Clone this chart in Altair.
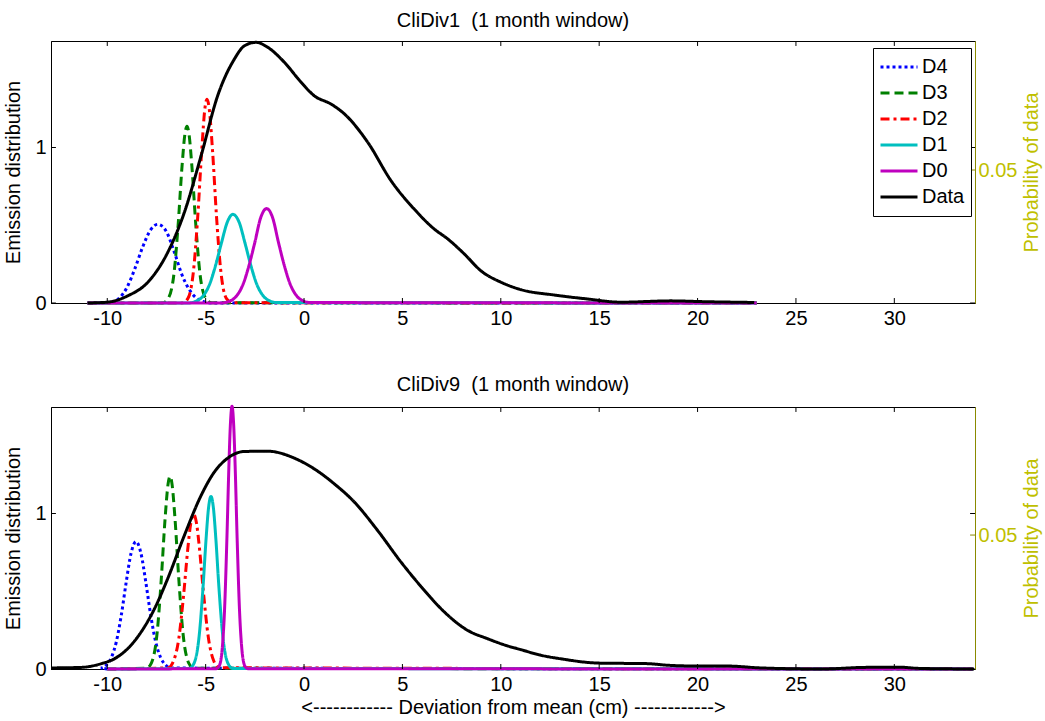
import altair as alt
import pandas as pd

SERIES = ["D4", "D3", "D2", "D1", "D0", "Data"]
COLORS = ["#0000FF", "#008000", "#FF0000", "#00BFBF", "#BF00BF", "#000000"]
DASHES = [[3, 3], [9, 5], [9, 4, 3, 4], [1, 0], [1, 0], [1, 0]]
X_TICKS = [-10, -5, 0, 5, 10, 15, 20, 25, 30]
Y_TICKS = [0, 1]
P_TICKS = [0.05]
X_DOMAIN = [-12.86, 34.1]
LEFT_MAX = 1.685
TITLE1 = "CliDiv1\u00a0 (1 month window)"
TITLE2 = "CliDiv9\u00a0 (1 month window)"
X_TITLE = "<------------ Deviation from mean (cm) ------------>"
LEFT_TITLE = "Emission distribution"
RIGHT_TITLE = "Probability of data"

# ---------------- Panel 1 (CliDiv1) ----------------
P1_D4_X = [-11, -9.8, -9.4, -9.0, -8.6, -8.2, -7.8, -7.43, -7.0, -6.6, -6.2, -5.8, -5.4, -5.0, -4.6, 23]
P1_D4_Y = [0, 0.005, 0.03, 0.1, 0.22, 0.36, 0.47, 0.506, 0.46, 0.33, 0.18, 0.08, 0.025, 0.005, 0, 0]
P1_D3_X = [-11, -7.2, -6.9, -6.6, -6.4, -6.2, -6.05, -5.95, -5.85, -5.7, -5.5, -5.3, -5.0, -4.7, 23]
P1_D3_Y = [0, 0, 0.03, 0.2, 0.5, 0.88, 1.09, 1.137, 1.09, 0.88, 0.5, 0.2, 0.03, 0.002, 0]
P1_D2_X = [-11, -6.2, -5.9, -5.6, -5.4, -5.2, -5.03, -4.93, -4.83, -4.65, -4.45, -4.25, -3.95, -3.65, 23]
P1_D2_Y = [0, 0, 0.03, 0.23, 0.56, 0.98, 1.26, 1.31, 1.26, 0.98, 0.56, 0.23, 0.03, 0.002, 0]
P1_D1_X = [-11, -5.9, -5.4, -5.1, -4.8, -4.5, -4.2, -3.9, -3.62, -3.3, -3.0, -2.7, -2.4, -2.1, -1.8, -1.4, 23]
P1_D1_Y = [0, 0, 0.017, 0.05, 0.12, 0.24, 0.385, 0.52, 0.57, 0.52, 0.385, 0.24, 0.12, 0.05, 0.017, 0.003, 0]
P1_D0_X = [-11, -4.2, -3.7, -3.4, -3.1, -2.8, -2.5, -2.2, -1.9, -1.6, -1.3, -1.0, -0.7, -0.4, -0.1, 0.3, 23]
P1_D0_Y = [0, 0, 0.017, 0.05, 0.12, 0.24, 0.39, 0.55, 0.607, 0.55, 0.39, 0.24, 0.12, 0.05, 0.017, 0.003, 0]
P1_DATA_X = [-11.0, -10.0, -8.96, -7.94, -6.93, -6.08, -5.23, -4.39, -3.54, -3.03, -2.44, -1.84,
             -1.0, -0.15, 0.52, 1.37, 2.05, 3.24, 4.42, 5.6, 6.62, 7.3, 8.15, 8.99, 10.01, 11.03,
             12.72, 14.42, 16.1, 18.65, 20.34, 22.88]
P1_DATA_Y = [0.0, 0.0003, 0.0027, 0.0078, 0.019, 0.0341, 0.0554, 0.0779, 0.0917, 0.0967, 0.098, 0.0961,
             0.0905, 0.083, 0.0779, 0.0748, 0.0711, 0.0604, 0.046, 0.0353, 0.0278, 0.0241, 0.0184, 0.0121,
             0.0078, 0.005, 0.003, 0.0015, 0.0003, 0.0008, 0.0005, 0.0002]
P1_RIGHT_MAX = 0.0985

# ---------------- Panel 2 (CliDiv9) ----------------
P2_D4_X = [-10, -10.34, -10.04, -9.79, -9.54, -9.29, -9.04, -8.79, -8.54, -8.29, -8.04, -7.79, -7.54, -7.29, -7.04, -6.74, 34]
P2_D4_Y = [0, 0.006, 0.026, 0.074, 0.175, 0.344, 0.557, 0.745, 0.819, 0.745, 0.557, 0.344, 0.175, 0.074, 0.026, 0.006, 0]
P2_D3_X = [-10, -8.01, -7.76, -7.46, -7.26, -7.06, -6.91, -6.81, -6.71, -6.56, -6.36, -6.16, -5.86, -5.61, 34]
P2_D3_Y = [0, 0.005, 0.038, 0.24, 0.57, 0.97, 1.19, 1.239, 1.19, 0.97, 0.57, 0.24, 0.038, 0.005, 0]
P2_D2_X = [-10, -6.91, -6.61, -6.36, -6.11, -5.91, -5.76, -5.61, -5.46, -5.31, -5.11, -4.86, -4.61, -4.31, 34]
P2_D2_Y = [0, 0.008, 0.059, 0.2, 0.49, 0.77, 0.934, 0.996, 0.934, 0.77, 0.49, 0.2, 0.059, 0.008, 0]
P2_D1_X = [-10, -5.83, -5.58, -5.33, -5.13, -4.98, -4.85, -4.73, -4.61, -4.48, -4.33, -4.13, -3.88, -3.63, 34]
P2_D1_Y = [0, 0.004, 0.04, 0.213, 0.533, 0.834, 1.04, 1.11, 1.04, 0.834, 0.533, 0.213, 0.04, 0.004, 0]
P2_D0_X = [-10, -4.46, -4.31, -4.16, -4.04, -3.92, -3.82, -3.74, -3.66, -3.58, -3.5, -3.4, -3.28, -3.16, -3.01, -2.86, 34]
P2_D0_Y = [0, 0.002, 0.02, 0.128, 0.38, 0.84, 1.3, 1.58, 1.69, 1.58, 1.3, 0.84, 0.38, 0.128, 0.02, 0.002, 0]
P2_DATA_X = [-12.86, -11.33, -10.3, -9.64, -8.96, -8.28, -7.6, -6.93, -6.08, -5.23, -4.56, -3.88, -3.03,
             -1.84, -0.49, 0.52, 1.54, 2.56, 3.74, 4.93, 6.11, 7.13, 8.32, 9.33, 10.35, 11.03, 12.0, 13.06,
             15.0, 17.46, 18.48, 20.0, 21.53, 23.22, 26.27, 28.47, 30.17, 31.35, 34.05]
P2_DATA_Y = [0.0004, 0.0006, 0.002, 0.0038, 0.0076, 0.0138, 0.0225, 0.0337, 0.0499, 0.0648, 0.0735, 0.0787,
             0.0812, 0.0813, 0.0787, 0.0747, 0.0691, 0.0623, 0.0517, 0.0399, 0.0294, 0.0213, 0.0144, 0.0113,
             0.0086, 0.0072, 0.0052, 0.0038, 0.0022, 0.002, 0.0014, 0.0011, 0.0011, 0.0004, 0.0, 0.0006, 0.0007,
             0.0002, 0.0]
P2_RIGHT_MAX = 0.0978

FONT = "Liberation Sans"
FS = 20
OLIVE = "#8A8A00"
YELLOW = "#BFBF00"
HYPHEN = "replace(datum.label, '\u2212', '-')"


def emis_frame(pairs):
    rows = []
    for name, xs, ys in pairs:
        for i, (a, b) in enumerate(zip(xs, ys)):
            rows.append({"x": a, "y": b, "series": name, "i": i})
    return pd.DataFrame(rows)


color_scale = alt.Scale(domain=SERIES, range=COLORS)
dash_scale = alt.Scale(domain=SERIES, range=DASHES)


def panel(title, pairs, data_x, data_y, right_max, show_x_title):
    xscale = alt.Scale(domain=X_DOMAIN, nice=False, zero=False)
    lscale = alt.Scale(domain=[0, LEFT_MAX], nice=False, zero=False)
    rscale = alt.Scale(domain=[0, right_max], nice=False, zero=False)
    xaxis = alt.Axis(values=X_TICKS, format="d", labelExpr=HYPHEN,
                     title=X_TITLE if show_x_title else None, labelPadding=5,
                     titlePadding=3, ticks=False)
    emis = alt.Chart(emis_frame(pairs)).mark_line(strokeWidth=3, interpolate="monotone", strokeCap="butt").encode(
        x=alt.X("x:Q", scale=xscale, axis=xaxis),
        y=alt.Y("y:Q", scale=lscale, axis=alt.Axis(values=Y_TICKS, format="d", title=LEFT_TITLE, labelPadding=5,
                                                    titlePadding=11, ticks=False)),
        color=alt.Color("series:N", scale=color_scale, legend=alt.Legend(title=None)),
        strokeDash=alt.StrokeDash("series:N", scale=dash_scale, legend=alt.Legend(title=None)),
        order="i:Q",
    )
    tick_df = pd.DataFrame({"t": X_TICKS})
    bottom_ticks = alt.Chart(tick_df).mark_rule(color="black", strokeWidth=1).encode(
        x="t:Q", y=alt.datum(0), y2=alt.datum(0.032))
    top_ticks = alt.Chart(tick_df).mark_rule(color="black", strokeWidth=1).encode(
        x="t:Q", y=alt.datum(LEFT_MAX), y2=alt.datum(LEFT_MAX - 0.032))
    ytick_df = pd.DataFrame({"t": Y_TICKS})
    left_ticks = alt.Chart(ytick_df).mark_rule(color="black", strokeWidth=1).encode(
        y="t:Q", x=alt.datum(X_DOMAIN[0]), x2=alt.datum(X_DOMAIN[0] + 0.25))
    right_black = alt.Chart(ytick_df).mark_rule(color="black", strokeWidth=1).encode(
        y="t:Q", x=alt.datum(X_DOMAIN[1]), x2=alt.datum(X_DOMAIN[1] - 0.25))
    left = alt.layer(emis, bottom_ticks, top_ticks, left_ticks, right_black)

    ddf = pd.DataFrame({"x": data_x, "y": data_y, "series": "Data"})
    dline = alt.Chart(ddf).mark_line(strokeWidth=3, interpolate="monotone").encode(
        x=alt.X("x:Q", scale=xscale, axis=xaxis),
        y=alt.Y("y:Q", scale=rscale,
                axis=alt.Axis(orient="right", values=P_TICKS, format=".2f", title=RIGHT_TITLE,
                              labelColor=YELLOW, titleColor=YELLOW, domainColor=OLIVE,
                              ticks=False, labelPadding=3, titlePadding=5, titleAngle=270,
                              titleBaseline="top")),
        color=alt.Color("series:N", scale=color_scale, legend=alt.Legend(title=None)),
        strokeDash=alt.StrokeDash("series:N", scale=dash_scale, legend=alt.Legend(title=None)),
    )
    ptick = alt.Chart(pd.DataFrame({"t": P_TICKS})).mark_rule(color=OLIVE, strokeWidth=1).encode(
        y=alt.Y("t:Q", scale=rscale), x=alt.datum(X_DOMAIN[1]), x2=alt.datum(X_DOMAIN[1] - 0.25))
    right = alt.layer(dline, ptick)

    return alt.layer(left, right).resolve_scale(y="independent").properties(
        width=924, height=262,
        title=alt.TitleParams(title, fontSize=FS, font=FONT, fontWeight="normal", anchor="middle", offset=5),
    )


p1 = panel(TITLE1,
           [("D4", P1_D4_X, P1_D4_Y), ("D3", P1_D3_X, P1_D3_Y), ("D2", P1_D2_X, P1_D2_Y),
            ("D1", P1_D1_X, P1_D1_Y), ("D0", P1_D0_X, P1_D0_Y)],
           P1_DATA_X, P1_DATA_Y, P1_RIGHT_MAX, False)
p2 = panel(TITLE2,
           [("D4", P2_D4_X, P2_D4_Y), ("D3", P2_D3_X, P2_D3_Y), ("D2", P2_D2_X, P2_D2_Y),
            ("D1", P2_D1_X, P2_D1_Y), ("D0", P2_D0_X, P2_D0_Y)],
           P2_DATA_X, P2_DATA_Y, P2_RIGHT_MAX, True)

chart = alt.vconcat(p1, p2, spacing=45).properties(
    padding={"left": 3, "top": 10, "right": 0, "bottom": 0}
).configure_view(stroke="black", strokeWidth=1).configure_axis(
    labelFont=FONT, titleFont=FONT, labelFontSize=FS, titleFontSize=FS, titleFontWeight="normal",
    grid=False, domainColor="black", labelColor="black", titleColor="black",
).configure_legend(
    orient="none", legendX=822, legendY=7, labelFont=FONT, labelFontSize=FS,
    symbolType="stroke", symbolSize=1369, symbolStrokeWidth=3, fillColor="white",
    strokeColor="black", padding=6, rowPadding=0, clipHeight=26, labelOffset=3, symbolDash=[1, 0],
)

chart.save("out.html", embed_options={"renderer": "svg", "actions": False})
